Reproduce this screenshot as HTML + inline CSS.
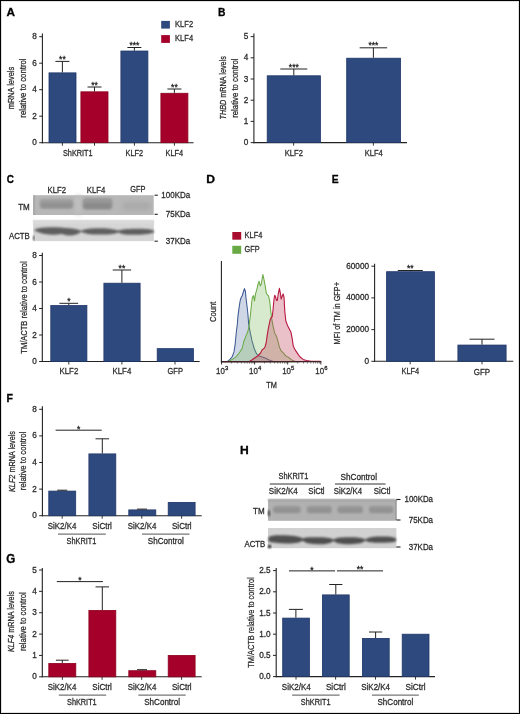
<!DOCTYPE html><html><head><meta charset="utf-8"><style>html,body{margin:0;padding:0;background:#fff;overflow:hidden}svg{display:block}text{font-family:"Liberation Sans",sans-serif;stroke:#2b2b2b;stroke-width:0.28px;paint-order:stroke}</style></head><body>
<svg width="520" height="714" viewBox="0 0 520 714">
<defs><filter id="b1" x="-20%" y="-80%" width="140%" height="260%"><feGaussianBlur stdDeviation="1.3"/></filter><filter id="b2" x="-20%" y="-80%" width="140%" height="260%"><feGaussianBlur stdDeviation="0.8"/></filter><filter id="soft" x="0" y="0" width="520" height="714" filterUnits="userSpaceOnUse"><feGaussianBlur stdDeviation="0.3"/></filter><filter id="b3" x="-20%" y="-80%" width="140%" height="260%"><feGaussianBlur stdDeviation="2"/></filter></defs>
<rect x="0" y="0" width="520" height="714" fill="#fff"/>
<g filter="url(#soft)">
<text transform="translate(6.41 16.40) scale(0.981 0.957)" x="0" y="0" font-size="12" font-weight="bold" fill="#000" style="stroke:#000;stroke-width:0.3px">A</text>
<text transform="translate(217.91 16.30) scale(0.861 0.981)" x="0" y="0" font-size="12" font-weight="bold" fill="#000" style="stroke:#000;stroke-width:0.3px">B</text>
<text transform="translate(6.79 182.88) scale(0.828 0.965)" x="0" y="0" font-size="12" font-weight="bold" fill="#000" style="stroke:#000;stroke-width:0.3px">C</text>
<text transform="translate(206.19 182.70) scale(1.013 0.908)" x="0" y="0" font-size="12" font-weight="bold" fill="#000" style="stroke:#000;stroke-width:0.3px">D</text>
<text transform="translate(331.81 182.70) scale(0.862 0.908)" x="0" y="0" font-size="12" font-weight="bold" fill="#000" style="stroke:#000;stroke-width:0.3px">E</text>
<text transform="translate(6.59 401.65) scale(0.879 0.939)" x="0" y="0" font-size="12" font-weight="bold" fill="#000" style="stroke:#000;stroke-width:0.3px">F</text>
<text transform="translate(6.32 562.98) scale(0.969 1.000)" x="0" y="0" font-size="12" font-weight="bold" fill="#000" style="stroke:#000;stroke-width:0.3px">G</text>
<text transform="translate(239.99 454.30) scale(1.006 0.945)" x="0" y="0" font-size="12" font-weight="bold" fill="#000" style="stroke:#000;stroke-width:0.3px">H</text>
<line x1="42.4" y1="33.6" x2="42.4" y2="143.25" stroke="#222" stroke-width="1.1"/>
<line x1="39.199999999999996" y1="142.7" x2="42.4" y2="142.7" stroke="#222" stroke-width="0.9900000000000001"/>
<text x="36.8" y="145.2" font-size="8.2" text-anchor="end" fill="#2b2b2b">0</text>
<line x1="39.199999999999996" y1="116.2" x2="42.4" y2="116.2" stroke="#222" stroke-width="0.9900000000000001"/>
<text x="36.8" y="118.7" font-size="8.2" text-anchor="end" fill="#2b2b2b">2</text>
<line x1="39.199999999999996" y1="89.7" x2="42.4" y2="89.7" stroke="#222" stroke-width="0.9900000000000001"/>
<text x="36.8" y="92.2" font-size="8.2" text-anchor="end" fill="#2b2b2b">4</text>
<line x1="39.199999999999996" y1="63.2" x2="42.4" y2="63.2" stroke="#222" stroke-width="0.9900000000000001"/>
<text x="36.8" y="65.7" font-size="8.2" text-anchor="end" fill="#2b2b2b">6</text>
<line x1="39.199999999999996" y1="36.7" x2="42.4" y2="36.7" stroke="#222" stroke-width="0.9900000000000001"/>
<text x="36.8" y="39.2" font-size="8.2" text-anchor="end" fill="#2b2b2b">8</text>
<line x1="41.85" y1="142.7" x2="193.6" y2="142.7" stroke="#222" stroke-width="1.1"/>
<rect x="49.0" y="72.87" width="27.0" height="69.83" fill="#2e4a7d" stroke="#1f3669" stroke-width="0.8"/>
<line x1="62.4" y1="61.4" x2="62.4" y2="72.47" stroke="#222" stroke-width="1.0"/>
<line x1="55.4" y1="61.4" x2="69.4" y2="61.4" stroke="#222" stroke-width="1.0"/>
<text x="62.4" y="62.35" font-size="8.5" text-anchor="middle" fill="#1a1a1a">**</text>
<rect x="80.9" y="91.82" width="27.1" height="50.88" fill="#a5022b" stroke="#8c0020" stroke-width="0.8"/>
<line x1="94.5" y1="87.0" x2="94.5" y2="91.42" stroke="#222" stroke-width="1.0"/>
<line x1="87.5" y1="87.0" x2="101.5" y2="87.0" stroke="#222" stroke-width="1.0"/>
<text x="94.5" y="87.75" font-size="8.5" text-anchor="middle" fill="#1a1a1a">**</text>
<rect x="120.9" y="51.01" width="27.0" height="91.69" fill="#2e4a7d" stroke="#1f3669" stroke-width="0.8"/>
<line x1="134.4" y1="47.5" x2="134.4" y2="50.61" stroke="#222" stroke-width="1.0"/>
<line x1="127.4" y1="47.5" x2="141.4" y2="47.5" stroke="#222" stroke-width="1.0"/>
<text x="134.4" y="48.45" font-size="8.5" text-anchor="middle" fill="#1a1a1a">***</text>
<rect x="160.9" y="93.28" width="27.0" height="49.42" fill="#a5022b" stroke="#8c0020" stroke-width="0.8"/>
<line x1="174.4" y1="89.0" x2="174.4" y2="92.88" stroke="#222" stroke-width="1.0"/>
<line x1="167.4" y1="89.0" x2="181.4" y2="89.0" stroke="#222" stroke-width="1.0"/>
<text x="174.4" y="89.85" font-size="8.5" text-anchor="middle" fill="#1a1a1a">**</text>
<line x1="62.4" y1="142.7" x2="62.4" y2="145.7" stroke="#222" stroke-width="0.9"/>
<line x1="94.5" y1="142.7" x2="94.5" y2="145.7" stroke="#222" stroke-width="0.9"/>
<line x1="134.4" y1="142.7" x2="134.4" y2="145.7" stroke="#222" stroke-width="0.9"/>
<line x1="174.4" y1="142.7" x2="174.4" y2="145.7" stroke="#222" stroke-width="0.9"/>
<text x="77.8" y="155.7" font-size="8.6" text-anchor="middle" fill="#2b2b2b" textLength="29.6" lengthAdjust="spacingAndGlyphs">ShKRIT1</text>
<text x="134.3" y="155.7" font-size="8.6" text-anchor="middle" fill="#2b2b2b" textLength="17.6" lengthAdjust="spacingAndGlyphs">KLF2</text>
<text x="174.3" y="155.7" font-size="8.6" text-anchor="middle" fill="#2b2b2b" textLength="17.6" lengthAdjust="spacingAndGlyphs">KLF4</text>
<text x="14.5" y="88.05" font-size="9.7" text-anchor="middle" fill="#2b2b2b" textLength="42.5" lengthAdjust="spacingAndGlyphs" transform="rotate(-90 14.5 88.05)">mRNA levels</text>
<text x="26.1" y="88.05" font-size="9.7" text-anchor="middle" fill="#2b2b2b" textLength="59.3" lengthAdjust="spacingAndGlyphs" transform="rotate(-90 26.1 88.05)">relative to control</text>
<rect x="161.2" y="20.9" width="8.7" height="7.7" fill="#2e4a7d"/>
<text x="175.1" y="27.1" font-size="8.6" fill="#2b2b2b" textLength="18" lengthAdjust="spacingAndGlyphs">KLF2</text>
<rect x="161.2" y="35.1" width="8.7" height="7.8" fill="#a5022b"/>
<text x="175.1" y="41.4" font-size="8.6" fill="#2b2b2b" textLength="18" lengthAdjust="spacingAndGlyphs">KLF4</text>
<line x1="253.9" y1="33.6" x2="253.9" y2="143.15" stroke="#222" stroke-width="1.1"/>
<line x1="250.70000000000002" y1="142.6" x2="253.9" y2="142.6" stroke="#222" stroke-width="0.9900000000000001"/>
<text x="248.3" y="145.1" font-size="8.2" text-anchor="end" fill="#2b2b2b">0</text>
<line x1="250.70000000000002" y1="121.4" x2="253.9" y2="121.4" stroke="#222" stroke-width="0.9900000000000001"/>
<text x="248.3" y="123.9" font-size="8.2" text-anchor="end" fill="#2b2b2b">1</text>
<line x1="250.70000000000002" y1="100.2" x2="253.9" y2="100.2" stroke="#222" stroke-width="0.9900000000000001"/>
<text x="248.3" y="102.7" font-size="8.2" text-anchor="end" fill="#2b2b2b">2</text>
<line x1="250.70000000000002" y1="79.0" x2="253.9" y2="79.0" stroke="#222" stroke-width="0.9900000000000001"/>
<text x="248.3" y="81.5" font-size="8.2" text-anchor="end" fill="#2b2b2b">3</text>
<line x1="250.70000000000002" y1="57.8" x2="253.9" y2="57.8" stroke="#222" stroke-width="0.9900000000000001"/>
<text x="248.3" y="60.3" font-size="8.2" text-anchor="end" fill="#2b2b2b">4</text>
<line x1="250.70000000000002" y1="36.6" x2="253.9" y2="36.6" stroke="#222" stroke-width="0.9900000000000001"/>
<text x="248.3" y="39.1" font-size="8.2" text-anchor="end" fill="#2b2b2b">5</text>
<line x1="253.35" y1="142.6" x2="407" y2="142.6" stroke="#222" stroke-width="1.1"/>
<rect x="267.2" y="75.8" width="53.2" height="66.8" fill="#2e4a7d" stroke="#1f3669" stroke-width="0.8"/>
<line x1="293.8" y1="69.0" x2="293.8" y2="75.4" stroke="#222" stroke-width="1.0"/>
<line x1="280.3" y1="69.0" x2="307.3" y2="69.0" stroke="#222" stroke-width="1.0"/>
<text x="293.8" y="69.85" font-size="8.5" text-anchor="middle" fill="#1a1a1a">***</text>
<rect x="346.7" y="58.2" width="53.8" height="84.4" fill="#2e4a7d" stroke="#1f3669" stroke-width="0.8"/>
<line x1="373.4" y1="47.8" x2="373.4" y2="57.8" stroke="#222" stroke-width="1.0"/>
<line x1="359.65" y1="47.8" x2="387.15" y2="47.8" stroke="#222" stroke-width="1.0"/>
<text x="373.4" y="48.45" font-size="8.5" text-anchor="middle" fill="#1a1a1a">***</text>
<line x1="293.6" y1="142.6" x2="293.6" y2="145.6" stroke="#222" stroke-width="0.9"/>
<line x1="373.4" y1="142.6" x2="373.4" y2="145.6" stroke="#222" stroke-width="0.9"/>
<text x="293.9" y="155.8" font-size="8.6" text-anchor="middle" fill="#2b2b2b" textLength="18.2" lengthAdjust="spacingAndGlyphs">KLF2</text>
<text x="373.7" y="155.7" font-size="8.6" text-anchor="middle" fill="#2b2b2b" textLength="18" lengthAdjust="spacingAndGlyphs">KLF4</text>
<text x="226.1" y="87.8" font-size="9.3" text-anchor="middle" fill="#2b2b2b" textLength="63.2" lengthAdjust="spacingAndGlyphs" transform="rotate(-90 226.1 87.8)"><tspan font-style="italic">THBD</tspan> mRNA levels</text>
<text x="237.8" y="88.15" font-size="9.3" text-anchor="middle" fill="#2b2b2b" textLength="59.3" lengthAdjust="spacingAndGlyphs" transform="rotate(-90 237.8 88.15)">relative to control</text>
<rect x="33.2" y="195.2" width="120.5" height="19.8" fill="#b7b7b7"/>
<rect x="33.2" y="195.2" width="2" height="19.8" fill="#a8a8a8"/>
<rect x="75" y="196" width="6.5" height="18" fill="#bfbfbf" filter="url(#b3)"/>
<rect x="39.5" y="199" width="34" height="10" rx="4" fill="#9d9d9d" filter="url(#b1)"/>
<rect x="41" y="203" width="31" height="4.5" rx="2" fill="#909090" filter="url(#b1)"/>
<rect x="82.5" y="198" width="30" height="11.5" rx="4" fill="#989898" filter="url(#b1)"/>
<rect x="84" y="203" width="27" height="5.5" rx="2" fill="#8a8a8a" filter="url(#b1)"/>
<rect x="122.5" y="202" width="28" height="8" rx="3" fill="#aaa" filter="url(#b3)"/>
<rect x="33.2" y="220.3" width="120.7" height="20.8" fill="#d5d5d5"/>
<rect x="33.2" y="220.3" width="120.7" height="3" fill="#dcdcdc" filter="url(#b2)"/>
<path d="M34.5,229.5 C38,228 44,227.3 50,227.3 C58,227.3 64,227.8 70,228.3 C75,228.8 79,229.8 81,230.8 C84,229.2 90,228.3 98,228.3 C106,228.3 113,228.8 118.5,230.5 C122,229.2 130,228.8 140,228.8 C147,228.8 152,229.5 154,230.8 L154,232.5 C150,234 142,234.8 132,234.8 C125,234.8 121,234 118.5,232.5 C115,234.2 108,234.6 98,234.6 C90,234.6 85,233.8 81,231.8 C78,234.5 74,235.8 69,235.6 C65,235.4 63,234.2 61.5,234 C58,234.8 54,235 50,234.6 C44,234.2 38,232.5 34.5,230.5 Z" fill="#5e5e5e" filter="url(#b2)"/>
<rect x="33.2" y="236" width="1.5" height="4" fill="#333" filter="url(#b2)"/>
<text x="18.2" y="209.8" font-size="8.6" fill="#2b2b2b" textLength="11.6" lengthAdjust="spacingAndGlyphs">TM</text>
<text x="9" y="239.2" font-size="8.6" fill="#2b2b2b" textLength="20.8" lengthAdjust="spacingAndGlyphs">ACTB</text>
<text x="56.85" y="192.5" font-size="8.6" text-anchor="middle" fill="#2b2b2b" textLength="18.5" lengthAdjust="spacingAndGlyphs">KLF2</text>
<text x="96" y="192.5" font-size="8.6" text-anchor="middle" fill="#2b2b2b" textLength="18.5" lengthAdjust="spacingAndGlyphs">KLF4</text>
<text x="137.8" y="192.3" font-size="8.6" text-anchor="middle" fill="#2b2b2b" textLength="15.2" lengthAdjust="spacingAndGlyphs">GFP</text>
<line x1="154.6" y1="195.2" x2="157.8" y2="195.2" stroke="#222" stroke-width="1.1"/>
<text x="161.3" y="198.1" font-size="8.6" fill="#2b2b2b" textLength="28.9" lengthAdjust="spacingAndGlyphs">100KDa</text>
<line x1="154.6" y1="214.3" x2="157.8" y2="214.3" stroke="#222" stroke-width="1.1"/>
<text x="165.8" y="217.20000000000002" font-size="8.6" fill="#2b2b2b" textLength="24.4" lengthAdjust="spacingAndGlyphs">75KDa</text>
<line x1="154.6" y1="241.2" x2="157.8" y2="241.2" stroke="#222" stroke-width="1.1"/>
<text x="165.8" y="244.1" font-size="8.6" fill="#2b2b2b" textLength="24.4" lengthAdjust="spacingAndGlyphs">37KDa</text>
<line x1="42.3" y1="252.7" x2="42.3" y2="362.05" stroke="#222" stroke-width="1.1"/>
<line x1="39.099999999999994" y1="361.5" x2="42.3" y2="361.5" stroke="#222" stroke-width="0.9900000000000001"/>
<text x="36.7" y="364.0" font-size="8.2" text-anchor="end" fill="#2b2b2b">0</text>
<line x1="39.099999999999994" y1="335.0" x2="42.3" y2="335.0" stroke="#222" stroke-width="0.9900000000000001"/>
<text x="36.7" y="337.5" font-size="8.2" text-anchor="end" fill="#2b2b2b">2</text>
<line x1="39.099999999999994" y1="308.5" x2="42.3" y2="308.5" stroke="#222" stroke-width="0.9900000000000001"/>
<text x="36.7" y="311.0" font-size="8.2" text-anchor="end" fill="#2b2b2b">4</text>
<line x1="39.099999999999994" y1="282.0" x2="42.3" y2="282.0" stroke="#222" stroke-width="0.9900000000000001"/>
<text x="36.7" y="284.5" font-size="8.2" text-anchor="end" fill="#2b2b2b">6</text>
<line x1="39.099999999999994" y1="255.5" x2="42.3" y2="255.5" stroke="#222" stroke-width="0.9900000000000001"/>
<text x="36.7" y="258.0" font-size="8.2" text-anchor="end" fill="#2b2b2b">8</text>
<line x1="41.75" y1="361.5" x2="199.7" y2="361.5" stroke="#222" stroke-width="1.1"/>
<rect x="50.8" y="305.59" width="36.1" height="55.91" fill="#2e4a7d" stroke="#1f3669" stroke-width="0.8"/>
<line x1="68.8" y1="303.3" x2="68.8" y2="305.19" stroke="#222" stroke-width="1.0"/>
<line x1="59.449999999999996" y1="303.3" x2="78.14999999999999" y2="303.3" stroke="#222" stroke-width="1.0"/>
<text x="68.8" y="304.35" font-size="8.5" text-anchor="middle" fill="#1a1a1a">*</text>
<rect x="103.9" y="283.2" width="36.2" height="78.3" fill="#2e4a7d" stroke="#1f3669" stroke-width="0.8"/>
<line x1="121.9" y1="270.0" x2="121.9" y2="282.8" stroke="#222" stroke-width="1.0"/>
<line x1="112.7" y1="270.0" x2="131.1" y2="270.0" stroke="#222" stroke-width="1.0"/>
<text x="121.9" y="270.85" font-size="8.5" text-anchor="middle" fill="#1a1a1a">**</text>
<rect x="157.2" y="348.65" width="36.2" height="12.85" fill="#2e4a7d" stroke="#1f3669" stroke-width="0.8"/>
<line x1="68.8" y1="361.5" x2="68.8" y2="364.5" stroke="#222" stroke-width="0.9"/>
<line x1="121.9" y1="361.5" x2="121.9" y2="364.5" stroke="#222" stroke-width="0.9"/>
<line x1="175.0" y1="361.5" x2="175.0" y2="364.5" stroke="#222" stroke-width="0.9"/>
<text x="68.9" y="374.3" font-size="8.6" text-anchor="middle" fill="#2b2b2b" textLength="18.7" lengthAdjust="spacingAndGlyphs">KLF2</text>
<text x="121.9" y="374.3" font-size="8.6" text-anchor="middle" fill="#2b2b2b" textLength="18.7" lengthAdjust="spacingAndGlyphs">KLF4</text>
<text x="175.2" y="374.3" font-size="8.6" text-anchor="middle" fill="#2b2b2b" textLength="15.5" lengthAdjust="spacingAndGlyphs">GFP</text>
<text x="26.6" y="307.5" font-size="9.7" text-anchor="middle" fill="#2b2b2b" textLength="92.4" lengthAdjust="spacingAndGlyphs" transform="rotate(-90 26.6 307.5)">TM/ACTB relative to control</text>
<polygon points="221.5,361.7 227.7,361.2 230,359.4 232.3,356.5 234,351.9 235.2,343.8 236.3,332.3 237.3,324.5 238,315.6 239.3,306.1 240.2,300.5 241.2,297.5 242.3,295.5 243.5,291.5 244.4,288.6 245.4,291.3 246,298 247,306 247.8,313 248.7,324.2 250.2,332.3 251.9,340.4 254.2,348.5 256.5,353.7 258.8,356 262.3,357.1 265.8,358.3 269.2,360 272.7,361.2 280,361.7" fill="#5470a8" fill-opacity="0.28" stroke="#3d5a92" stroke-width="1.05" stroke-linejoin="round"/>
<polygon points="221.5,361.7 228.8,361.2 232.3,359.4 235.8,357.1 239.2,353 242.1,348.5 243.8,341.5 245.6,336.9 247.9,331.2 249,326.5 250.2,317 250.9,310 252.3,297.5 253.5,295.6 254.5,301 255.4,294.6 256.3,291.2 256.9,289.3 257.9,284.6 259.1,281.2 260.2,286 261.3,284 262.2,278.5 262.9,274.5 263.9,279.2 265,284.8 266.4,293.5 267.3,294.6 268.5,295.8 269.6,300.4 270.8,311.5 271.7,318.5 272.5,323.1 273.7,328.8 274.8,333.5 276,335.2 277.1,338.1 278.3,342.7 279.4,347.3 281.2,350.8 283.5,353.1 285.8,356 288.1,357.1 289.8,358.3 292.7,360.6 295,361.2 300,361.7" fill="#7dbb5a" fill-opacity="0.3" stroke="#6aaa45" stroke-width="1.05" stroke-linejoin="round"/>
<polygon points="221.5,361.7 249.6,361.2 251.9,360 254.2,358.3 257.7,356 260.6,353 262.3,349.6 264,348.5 265,347 266.2,342.7 267.3,334.6 268.5,327.7 270.2,319.6 271.3,317.3 272.2,316.7 273.1,309.2 273.7,302.3 274.2,298 274.8,295.2 275.6,297 276.5,300.4 277.3,300.4 278.3,293.5 279.4,288.3 280.2,292.3 281.2,299.2 282.3,295.8 283.1,294 284,297 284.8,311.5 285.8,320.8 287.5,325.4 289.2,328.8 291,332.3 292.1,338.1 293.3,346.2 295,349.6 297.3,353.1 299.6,356.5 303.1,359.4 306.5,360.6 311.2,361.2 320.4,361.4" fill="#c23a5a" fill-opacity="0.32" stroke="#b81a40" stroke-width="1.1" stroke-linejoin="round"/>
<line x1="221.4" y1="261" x2="221.4" y2="362.2" stroke="#222" stroke-width="1.1"/>
<line x1="220.9" y1="361.7" x2="321.5" y2="361.7" stroke="#222" stroke-width="1.1"/>
<line x1="231.46" y1="361.7" x2="231.46" y2="363.5" stroke="#444" stroke-width="0.7"/>
<line x1="237.29" y1="361.7" x2="237.29" y2="363.5" stroke="#444" stroke-width="0.7"/>
<line x1="241.43" y1="361.7" x2="241.43" y2="363.5" stroke="#444" stroke-width="0.7"/>
<line x1="244.64" y1="361.7" x2="244.64" y2="363.5" stroke="#444" stroke-width="0.7"/>
<line x1="247.26" y1="361.7" x2="247.26" y2="363.5" stroke="#444" stroke-width="0.7"/>
<line x1="249.47" y1="361.7" x2="249.47" y2="363.5" stroke="#444" stroke-width="0.7"/>
<line x1="251.39" y1="361.7" x2="251.39" y2="363.5" stroke="#444" stroke-width="0.7"/>
<line x1="253.09" y1="361.7" x2="253.09" y2="363.5" stroke="#444" stroke-width="0.7"/>
<line x1="264.56" y1="361.7" x2="264.56" y2="363.5" stroke="#444" stroke-width="0.7"/>
<line x1="270.39" y1="361.7" x2="270.39" y2="363.5" stroke="#444" stroke-width="0.7"/>
<line x1="274.53" y1="361.7" x2="274.53" y2="363.5" stroke="#444" stroke-width="0.7"/>
<line x1="277.74" y1="361.7" x2="277.74" y2="363.5" stroke="#444" stroke-width="0.7"/>
<line x1="280.36" y1="361.7" x2="280.36" y2="363.5" stroke="#444" stroke-width="0.7"/>
<line x1="282.57" y1="361.7" x2="282.57" y2="363.5" stroke="#444" stroke-width="0.7"/>
<line x1="284.49" y1="361.7" x2="284.49" y2="363.5" stroke="#444" stroke-width="0.7"/>
<line x1="286.19" y1="361.7" x2="286.19" y2="363.5" stroke="#444" stroke-width="0.7"/>
<line x1="297.66" y1="361.7" x2="297.66" y2="363.5" stroke="#444" stroke-width="0.7"/>
<line x1="303.49" y1="361.7" x2="303.49" y2="363.5" stroke="#444" stroke-width="0.7"/>
<line x1="307.63" y1="361.7" x2="307.63" y2="363.5" stroke="#444" stroke-width="0.7"/>
<line x1="310.84" y1="361.7" x2="310.84" y2="363.5" stroke="#444" stroke-width="0.7"/>
<line x1="313.46" y1="361.7" x2="313.46" y2="363.5" stroke="#444" stroke-width="0.7"/>
<line x1="315.67" y1="361.7" x2="315.67" y2="363.5" stroke="#444" stroke-width="0.7"/>
<line x1="317.59" y1="361.7" x2="317.59" y2="363.5" stroke="#444" stroke-width="0.7"/>
<line x1="319.29" y1="361.7" x2="319.29" y2="363.5" stroke="#444" stroke-width="0.7"/>
<line x1="221.5" y1="361.7" x2="221.5" y2="364.5" stroke="#222" stroke-width="0.9"/>
<line x1="254.6" y1="361.7" x2="254.6" y2="364.5" stroke="#222" stroke-width="0.9"/>
<line x1="287.7" y1="361.7" x2="287.7" y2="364.5" stroke="#222" stroke-width="0.9"/>
<line x1="320.8" y1="361.7" x2="320.8" y2="364.5" stroke="#222" stroke-width="0.9"/>
<text x="216.0" y="374.2" font-size="9.2" fill="#2b2b2b" textLength="8.8" lengthAdjust="spacingAndGlyphs">10</text>
<text x="224.9" y="370.3" font-size="6" fill="#2b2b2b" textLength="3.3" lengthAdjust="spacingAndGlyphs">3</text>
<text x="249.1" y="374.2" font-size="9.2" fill="#2b2b2b" textLength="8.8" lengthAdjust="spacingAndGlyphs">10</text>
<text x="258.0" y="370.3" font-size="6" fill="#2b2b2b" textLength="3.3" lengthAdjust="spacingAndGlyphs">4</text>
<text x="282.2" y="374.2" font-size="9.2" fill="#2b2b2b" textLength="8.8" lengthAdjust="spacingAndGlyphs">10</text>
<text x="291.1" y="370.3" font-size="6" fill="#2b2b2b" textLength="3.3" lengthAdjust="spacingAndGlyphs">5</text>
<text x="315.3" y="374.2" font-size="9.2" fill="#2b2b2b" textLength="8.8" lengthAdjust="spacingAndGlyphs">10</text>
<text x="324.2" y="370.3" font-size="6" fill="#2b2b2b" textLength="3.3" lengthAdjust="spacingAndGlyphs">6</text>
<text x="271.6" y="388" font-size="9.8" text-anchor="middle" fill="#2b2b2b" textLength="10.6" lengthAdjust="spacingAndGlyphs">TM</text>
<text x="215.8" y="311.8" font-size="9.7" text-anchor="middle" fill="#2b2b2b" textLength="20.4" lengthAdjust="spacingAndGlyphs" transform="rotate(-90 215.8 311.8)">Count</text>
<rect x="232.3" y="232" width="8.9" height="7.7" fill="#a8102f"/>
<text x="244.6" y="238.2" font-size="8.6" fill="#2b2b2b" textLength="17.7" lengthAdjust="spacingAndGlyphs">KLF4</text>
<rect x="232.3" y="245.8" width="8.9" height="8" fill="#6aaa45"/>
<text x="244.6" y="252" font-size="8.6" fill="#2b2b2b" textLength="15.1" lengthAdjust="spacingAndGlyphs">GFP</text>
<line x1="374.6" y1="263.7" x2="374.6" y2="361.85" stroke="#222" stroke-width="1.1"/>
<line x1="371.40000000000003" y1="361.3" x2="374.6" y2="361.3" stroke="#222" stroke-width="0.9900000000000001"/>
<text x="369.0" y="363.8" font-size="8.2" text-anchor="end" fill="#2b2b2b">0</text>
<line x1="371.40000000000003" y1="329.6" x2="374.6" y2="329.6" stroke="#222" stroke-width="0.9900000000000001"/>
<text x="369.0" y="332.1" font-size="8.2" text-anchor="end" fill="#2b2b2b">20000</text>
<line x1="371.40000000000003" y1="297.9" x2="374.6" y2="297.9" stroke="#222" stroke-width="0.9900000000000001"/>
<text x="369.0" y="300.4" font-size="8.2" text-anchor="end" fill="#2b2b2b">40000</text>
<line x1="371.40000000000003" y1="266.2" x2="374.6" y2="266.2" stroke="#222" stroke-width="0.9900000000000001"/>
<text x="369.0" y="268.7" font-size="8.2" text-anchor="end" fill="#2b2b2b">60000</text>
<line x1="374.05" y1="361.3" x2="513.3" y2="361.3" stroke="#222" stroke-width="1.1"/>
<rect x="386.6" y="271.7" width="47.8" height="89.6" fill="#2e4a7d" stroke="#1f3669" stroke-width="0.8"/>
<line x1="410.3" y1="270.5" x2="410.3" y2="271.3" stroke="#222" stroke-width="1.0"/>
<line x1="397.8" y1="270.5" x2="422.8" y2="270.5" stroke="#222" stroke-width="1.0"/>
<text x="410.2" y="271.45" font-size="8.5" text-anchor="middle" fill="#1a1a1a">**</text>
<rect x="457.9" y="345.06" width="48.2" height="16.24" fill="#2e4a7d" stroke="#1f3669" stroke-width="0.8"/>
<line x1="482" y1="339.2" x2="482" y2="344.66" stroke="#222" stroke-width="1.0"/>
<line x1="469.5" y1="339.2" x2="494.5" y2="339.2" stroke="#222" stroke-width="1.0"/>
<line x1="410.2" y1="361.3" x2="410.2" y2="364.3" stroke="#222" stroke-width="0.9"/>
<line x1="482" y1="361.3" x2="482" y2="364.3" stroke="#222" stroke-width="0.9"/>
<text x="410.3" y="374.4" font-size="8.6" text-anchor="middle" fill="#2b2b2b" textLength="17.7" lengthAdjust="spacingAndGlyphs">KLF4</text>
<text x="482" y="374.6" font-size="8.6" text-anchor="middle" fill="#2b2b2b" textLength="16.4" lengthAdjust="spacingAndGlyphs">GFP</text>
<text x="340.0" y="313.2" font-size="9.7" text-anchor="middle" fill="#2b2b2b" textLength="62.5" lengthAdjust="spacingAndGlyphs" transform="rotate(-90 340.0 313.2)">MFI of TM in GFP+</text>
<line x1="42.4" y1="406.2" x2="42.4" y2="516.25" stroke="#222" stroke-width="1.1"/>
<line x1="39.199999999999996" y1="515.7" x2="42.4" y2="515.7" stroke="#222" stroke-width="0.9900000000000001"/>
<text x="36.8" y="518.2" font-size="8.2" text-anchor="end" fill="#2b2b2b">0</text>
<line x1="39.199999999999996" y1="489.1" x2="42.4" y2="489.1" stroke="#222" stroke-width="0.9900000000000001"/>
<text x="36.8" y="491.6" font-size="8.2" text-anchor="end" fill="#2b2b2b">2</text>
<line x1="39.199999999999996" y1="462.5" x2="42.4" y2="462.5" stroke="#222" stroke-width="0.9900000000000001"/>
<text x="36.8" y="465.0" font-size="8.2" text-anchor="end" fill="#2b2b2b">4</text>
<line x1="39.199999999999996" y1="435.9" x2="42.4" y2="435.9" stroke="#222" stroke-width="0.9900000000000001"/>
<text x="36.8" y="438.4" font-size="8.2" text-anchor="end" fill="#2b2b2b">6</text>
<line x1="39.199999999999996" y1="409.3" x2="42.4" y2="409.3" stroke="#222" stroke-width="0.9900000000000001"/>
<text x="36.8" y="411.8" font-size="8.2" text-anchor="end" fill="#2b2b2b">8</text>
<line x1="41.85" y1="515.7" x2="201.7" y2="515.7" stroke="#222" stroke-width="1.1"/>
<rect x="48.8" y="491.1" width="26.9" height="24.6" fill="#2e4a7d" stroke="#1f3669" stroke-width="0.8"/>
<line x1="62.2" y1="490.2" x2="62.2" y2="490.7" stroke="#222" stroke-width="1.0"/>
<line x1="57.2" y1="490.2" x2="67.2" y2="490.2" stroke="#222" stroke-width="1.0"/>
<rect x="88.9" y="453.9" width="26.9" height="61.8" fill="#2e4a7d" stroke="#1f3669" stroke-width="0.8"/>
<line x1="102.3" y1="438.8" x2="102.3" y2="453.5" stroke="#222" stroke-width="1.0"/>
<line x1="95.55" y1="438.8" x2="109.05" y2="438.8" stroke="#222" stroke-width="1.0"/>
<rect x="128.8" y="509.9" width="27.0" height="5.8" fill="#2e4a7d" stroke="#1f3669" stroke-width="0.8"/>
<line x1="142" y1="509.1" x2="142" y2="509.5" stroke="#222" stroke-width="1.0"/>
<line x1="137.0" y1="509.1" x2="147.0" y2="509.1" stroke="#222" stroke-width="1.0"/>
<rect x="168.2" y="502.4" width="26.9" height="13.3" fill="#2e4a7d" stroke="#1f3669" stroke-width="0.8"/>
<line x1="62.2" y1="515.7" x2="62.2" y2="518.7" stroke="#222" stroke-width="0.9"/>
<line x1="102.2" y1="515.7" x2="102.2" y2="518.7" stroke="#222" stroke-width="0.9"/>
<line x1="141.8" y1="515.7" x2="141.8" y2="518.7" stroke="#222" stroke-width="0.9"/>
<line x1="181.6" y1="515.7" x2="181.6" y2="518.7" stroke="#222" stroke-width="0.9"/>
<line x1="55.6" y1="430.2" x2="101.7" y2="430.2" stroke="#222" stroke-width="1.0"/>
<text x="78.7" y="432.15" font-size="8.5" text-anchor="middle" fill="#1a1a1a">*</text>
<text x="62.05" y="528.9" font-size="8.6" text-anchor="middle" fill="#2b2b2b" textLength="28.5" lengthAdjust="spacingAndGlyphs">SiK2/K4</text>
<text x="102.1" y="528.9" font-size="8.6" text-anchor="middle" fill="#2b2b2b" textLength="19.6" lengthAdjust="spacingAndGlyphs">SiCtrl</text>
<text x="142.05" y="528.9" font-size="8.6" text-anchor="middle" fill="#2b2b2b" textLength="28.5" lengthAdjust="spacingAndGlyphs">SiK2/K4</text>
<text x="181.8" y="528.9" font-size="8.6" text-anchor="middle" fill="#2b2b2b" textLength="19.6" lengthAdjust="spacingAndGlyphs">SiCtrl</text>
<line x1="58" y1="534.1" x2="105.8" y2="534.1" stroke="#555" stroke-width="1.0"/>
<line x1="142" y1="534.1" x2="189.5" y2="534.1" stroke="#555" stroke-width="1.0"/>
<text x="81.5" y="543.6" font-size="8.6" text-anchor="middle" fill="#2b2b2b" textLength="29.8" lengthAdjust="spacingAndGlyphs">ShKRIT1</text>
<text x="165.75" y="543.6" font-size="8.6" text-anchor="middle" fill="#2b2b2b" textLength="35.9" lengthAdjust="spacingAndGlyphs">ShControl</text>
<text x="14.6" y="461.5" font-size="9.7" text-anchor="middle" fill="#2b2b2b" textLength="61" lengthAdjust="spacingAndGlyphs" transform="rotate(-90 14.6 461.5)"><tspan font-style="italic">KLF2</tspan> mRNA levels</text>
<text x="26.2" y="460.9" font-size="9.7" text-anchor="middle" fill="#2b2b2b" textLength="58.5" lengthAdjust="spacingAndGlyphs" transform="rotate(-90 26.2 460.9)">relative to control</text>
<line x1="42.3" y1="568" x2="42.3" y2="677.3499999999999" stroke="#222" stroke-width="1.1"/>
<line x1="39.099999999999994" y1="676.8" x2="42.3" y2="676.8" stroke="#222" stroke-width="0.9900000000000001"/>
<text x="36.7" y="679.3" font-size="8.2" text-anchor="end" fill="#2b2b2b">0</text>
<line x1="39.099999999999994" y1="655.44" x2="42.3" y2="655.44" stroke="#222" stroke-width="0.9900000000000001"/>
<text x="36.7" y="657.94" font-size="8.2" text-anchor="end" fill="#2b2b2b">1</text>
<line x1="39.099999999999994" y1="634.08" x2="42.3" y2="634.08" stroke="#222" stroke-width="0.9900000000000001"/>
<text x="36.7" y="636.58" font-size="8.2" text-anchor="end" fill="#2b2b2b">2</text>
<line x1="39.099999999999994" y1="612.72" x2="42.3" y2="612.72" stroke="#222" stroke-width="0.9900000000000001"/>
<text x="36.7" y="615.22" font-size="8.2" text-anchor="end" fill="#2b2b2b">3</text>
<line x1="39.099999999999994" y1="591.36" x2="42.3" y2="591.36" stroke="#222" stroke-width="0.9900000000000001"/>
<text x="36.7" y="593.86" font-size="8.2" text-anchor="end" fill="#2b2b2b">4</text>
<line x1="39.099999999999994" y1="570.0" x2="42.3" y2="570.0" stroke="#222" stroke-width="0.9900000000000001"/>
<text x="36.7" y="572.5" font-size="8.2" text-anchor="end" fill="#2b2b2b">5</text>
<line x1="41.75" y1="676.8" x2="201.7" y2="676.8" stroke="#222" stroke-width="1.1"/>
<rect x="48.8" y="663.4" width="27.0" height="13.4" fill="#a5022b" stroke="#8c0020" stroke-width="0.8"/>
<line x1="62.3" y1="660.2" x2="62.3" y2="663.0" stroke="#222" stroke-width="1.0"/>
<line x1="55.949999999999996" y1="660.2" x2="68.64999999999999" y2="660.2" stroke="#222" stroke-width="1.0"/>
<rect x="88.9" y="610.4" width="26.9" height="66.4" fill="#a5022b" stroke="#8c0020" stroke-width="0.8"/>
<line x1="102.3" y1="586.9" x2="102.3" y2="610.0" stroke="#222" stroke-width="1.0"/>
<line x1="95.55" y1="586.9" x2="109.05" y2="586.9" stroke="#222" stroke-width="1.0"/>
<rect x="128.8" y="670.7" width="27.0" height="6.1" fill="#a5022b" stroke="#8c0020" stroke-width="0.8"/>
<line x1="142" y1="669.7" x2="142" y2="670.3" stroke="#222" stroke-width="1.0"/>
<line x1="137.0" y1="669.7" x2="147.0" y2="669.7" stroke="#222" stroke-width="1.0"/>
<rect x="168.2" y="655.4" width="26.9" height="21.4" fill="#a5022b" stroke="#8c0020" stroke-width="0.8"/>
<line x1="62.4" y1="676.8" x2="62.4" y2="679.8" stroke="#222" stroke-width="0.9"/>
<line x1="102.1" y1="676.8" x2="102.1" y2="679.8" stroke="#222" stroke-width="0.9"/>
<line x1="141.7" y1="676.8" x2="141.7" y2="679.8" stroke="#222" stroke-width="0.9"/>
<line x1="181.6" y1="676.8" x2="181.6" y2="679.8" stroke="#222" stroke-width="0.9"/>
<line x1="56.8" y1="581.6" x2="102.9" y2="581.6" stroke="#222" stroke-width="1.0"/>
<text x="79.8" y="583.45" font-size="8.5" text-anchor="middle" fill="#1a1a1a">*</text>
<text x="62.05" y="689.6" font-size="8.6" text-anchor="middle" fill="#2b2b2b" textLength="28.5" lengthAdjust="spacingAndGlyphs">SiK2/K4</text>
<text x="102.1" y="689.6" font-size="8.6" text-anchor="middle" fill="#2b2b2b" textLength="19.6" lengthAdjust="spacingAndGlyphs">SiCtrl</text>
<text x="142.05" y="689.6" font-size="8.6" text-anchor="middle" fill="#2b2b2b" textLength="28.5" lengthAdjust="spacingAndGlyphs">SiK2/K4</text>
<text x="181.8" y="689.6" font-size="8.6" text-anchor="middle" fill="#2b2b2b" textLength="19.6" lengthAdjust="spacingAndGlyphs">SiCtrl</text>
<line x1="58.8" y1="695.1" x2="106.2" y2="695.1" stroke="#555" stroke-width="1.0"/>
<line x1="138.3" y1="695.1" x2="185.7" y2="695.1" stroke="#555" stroke-width="1.0"/>
<text x="81.85" y="704.7" font-size="8.6" text-anchor="middle" fill="#2b2b2b" textLength="29.7" lengthAdjust="spacingAndGlyphs">ShKRIT1</text>
<text x="162.15" y="704.7" font-size="8.6" text-anchor="middle" fill="#2b2b2b" textLength="35.9" lengthAdjust="spacingAndGlyphs">ShControl</text>
<text x="14.5" y="621.6" font-size="9.7" text-anchor="middle" fill="#2b2b2b" textLength="60.8" lengthAdjust="spacingAndGlyphs" transform="rotate(-90 14.5 621.6)"><tspan font-style="italic">KLF4</tspan> mRNA levels</text>
<text x="26.3" y="621.6" font-size="9.7" text-anchor="middle" fill="#2b2b2b" textLength="58.8" lengthAdjust="spacingAndGlyphs" transform="rotate(-90 26.3 621.6)">relative to control</text>
<text x="293.4" y="479.4" font-size="8.6" text-anchor="middle" fill="#2b2b2b" textLength="29.8" lengthAdjust="spacingAndGlyphs">ShKRIT1</text>
<text x="358.75" y="479.5" font-size="8.6" text-anchor="middle" fill="#2b2b2b" textLength="36.5" lengthAdjust="spacingAndGlyphs">ShControl</text>
<line x1="269.8" y1="484" x2="320.8" y2="484" stroke="#333" stroke-width="1.0"/>
<line x1="335" y1="484" x2="385.5" y2="484" stroke="#333" stroke-width="1.0"/>
<text x="283.25" y="494.4" font-size="8.6" text-anchor="middle" fill="#2b2b2b" textLength="28.9" lengthAdjust="spacingAndGlyphs">SiK2/K4</text>
<text x="316.45" y="494.4" font-size="8.6" text-anchor="middle" fill="#2b2b2b" textLength="16.3" lengthAdjust="spacingAndGlyphs">SiCtl</text>
<text x="347.9" y="494.4" font-size="8.6" text-anchor="middle" fill="#2b2b2b" textLength="28.2" lengthAdjust="spacingAndGlyphs">SiK2/K4</text>
<text x="382.15" y="494.4" font-size="8.6" text-anchor="middle" fill="#2b2b2b" textLength="16.7" lengthAdjust="spacingAndGlyphs">SiCtl</text>
<rect x="268" y="499.3" width="127.5" height="21.5" fill="#b1b1b1"/>
<rect x="268" y="499.3" width="127.5" height="1.6" fill="#a0a0a0" filter="url(#b2)"/>
<rect x="273.1" y="505.8" width="27.6" height="7.5" rx="3" fill="#9a9a9a" filter="url(#b1)"/>
<rect x="274.1" y="508" width="25.6" height="4.2" rx="2" fill="#929292" filter="url(#b1)"/>
<rect x="306.7" y="505.8" width="25.1" height="7.5" rx="3" fill="#9a9a9a" filter="url(#b1)"/>
<rect x="307.7" y="508" width="23.1" height="4.2" rx="2" fill="#929292" filter="url(#b1)"/>
<rect x="337.4" y="505.8" width="25.6" height="7.5" rx="3" fill="#9a9a9a" filter="url(#b1)"/>
<rect x="338.4" y="508" width="23.6" height="4.2" rx="2" fill="#929292" filter="url(#b1)"/>
<rect x="369" y="505.8" width="24.3" height="7.5" rx="3" fill="#9a9a9a" filter="url(#b1)"/>
<rect x="370" y="508" width="22.3" height="4.2" rx="2" fill="#929292" filter="url(#b1)"/>
<rect x="268" y="510.5" width="1.8" height="5.5" fill="#333" filter="url(#b2)"/>
<line x1="396" y1="499.8" x2="396" y2="520.2" stroke="#444" stroke-width="0.8"/>
<rect x="268" y="528" width="128.4" height="20.2" fill="#d1d1d1"/>
<path d="M268.4,537.5 C270,535.6 275,535.2 282,535.3 C292,535.5 299,536 302.7,538.5 C306,536.9 312,537.3 318,537.3 C325,537.3 330,537.6 333.5,539.5 C337,537.4 343,537.3 350,537.3 C357,537.3 362,537.6 365.3,539.5 C368,536.8 375,536.4 382,536.4 C390,536.4 394,537 396,538.5 L396,541.3 C393,542.6 388,542.8 380,542.8 C373,542.8 368,542.5 365.3,540.8 C362,543.8 356,544.2 348,544.2 C341,544.2 337,543.6 333.5,541 C330,544 325,544.3 318,544.3 C311,544.3 306,543.4 302.7,540.8 C299,543.2 293,543.6 286,543.6 C278,543.4 272,542.5 268.4,541.5 Z" fill="#505050" filter="url(#b2)"/>
<rect x="268" y="545" width="3" height="3" fill="#222" filter="url(#b2)"/>
<text x="253" y="514.4" font-size="8.6" fill="#2b2b2b" textLength="11.6" lengthAdjust="spacingAndGlyphs">TM</text>
<text x="244.5" y="547" font-size="8.6" fill="#2b2b2b" textLength="20.8" lengthAdjust="spacingAndGlyphs">ACTB</text>
<line x1="396.3" y1="499.5" x2="400.5" y2="499.5" stroke="#222" stroke-width="1.1"/>
<text x="404.5" y="502.4" font-size="8.6" fill="#2b2b2b" textLength="28.5" lengthAdjust="spacingAndGlyphs">100KDa</text>
<line x1="396.3" y1="520.0" x2="400.5" y2="520.0" stroke="#222" stroke-width="1.1"/>
<text x="408.8" y="522.9" font-size="8.6" fill="#2b2b2b" textLength="24.2" lengthAdjust="spacingAndGlyphs">75KDa</text>
<line x1="396.3" y1="547.0" x2="400.5" y2="547.0" stroke="#222" stroke-width="1.1"/>
<text x="408.8" y="549.9" font-size="8.6" fill="#2b2b2b" textLength="24.2" lengthAdjust="spacingAndGlyphs">37KDa</text>
<line x1="276.2" y1="568" x2="276.2" y2="677.15" stroke="#222" stroke-width="1.1"/>
<line x1="273.0" y1="676.6" x2="276.2" y2="676.6" stroke="#222" stroke-width="0.9900000000000001"/>
<text x="270.6" y="679.1" font-size="8.2" text-anchor="end" fill="#2b2b2b">0.0</text>
<line x1="273.0" y1="655.4" x2="276.2" y2="655.4" stroke="#222" stroke-width="0.9900000000000001"/>
<text x="270.6" y="657.9" font-size="8.2" text-anchor="end" fill="#2b2b2b">0.5</text>
<line x1="273.0" y1="634.2" x2="276.2" y2="634.2" stroke="#222" stroke-width="0.9900000000000001"/>
<text x="270.6" y="636.7" font-size="8.2" text-anchor="end" fill="#2b2b2b">1.0</text>
<line x1="273.0" y1="613.0" x2="276.2" y2="613.0" stroke="#222" stroke-width="0.9900000000000001"/>
<text x="270.6" y="615.5" font-size="8.2" text-anchor="end" fill="#2b2b2b">1.5</text>
<line x1="273.0" y1="591.8" x2="276.2" y2="591.8" stroke="#222" stroke-width="0.9900000000000001"/>
<text x="270.6" y="594.3" font-size="8.2" text-anchor="end" fill="#2b2b2b">2.0</text>
<line x1="273.0" y1="570.6" x2="276.2" y2="570.6" stroke="#222" stroke-width="0.9900000000000001"/>
<text x="270.6" y="573.1" font-size="8.2" text-anchor="end" fill="#2b2b2b">2.5</text>
<line x1="275.65" y1="676.6" x2="435" y2="676.6" stroke="#222" stroke-width="1.1"/>
<rect x="282.7" y="618.1" width="26.7" height="58.5" fill="#2e4a7d" stroke="#1f3669" stroke-width="0.8"/>
<line x1="295.9" y1="609.4" x2="295.9" y2="617.7" stroke="#222" stroke-width="1.0"/>
<line x1="288.9" y1="609.4" x2="302.9" y2="609.4" stroke="#222" stroke-width="1.0"/>
<rect x="322.4" y="594.9" width="26.8" height="81.7" fill="#2e4a7d" stroke="#1f3669" stroke-width="0.8"/>
<line x1="335.8" y1="584.5" x2="335.8" y2="594.5" stroke="#222" stroke-width="1.0"/>
<line x1="329.2" y1="584.5" x2="342.40000000000003" y2="584.5" stroke="#222" stroke-width="1.0"/>
<rect x="362.4" y="638.4" width="26.8" height="38.2" fill="#2e4a7d" stroke="#1f3669" stroke-width="0.8"/>
<line x1="375.6" y1="632.0" x2="375.6" y2="638.0" stroke="#222" stroke-width="1.0"/>
<line x1="369.0" y1="632.0" x2="382.20000000000005" y2="632.0" stroke="#222" stroke-width="1.0"/>
<rect x="402.2" y="634.2" width="26.8" height="42.4" fill="#2e4a7d" stroke="#1f3669" stroke-width="0.8"/>
<line x1="296" y1="676.6" x2="296" y2="679.6" stroke="#222" stroke-width="0.9"/>
<line x1="335.6" y1="676.6" x2="335.6" y2="679.6" stroke="#222" stroke-width="0.9"/>
<line x1="375.5" y1="676.6" x2="375.5" y2="679.6" stroke="#222" stroke-width="0.9"/>
<line x1="415.5" y1="676.6" x2="415.5" y2="679.6" stroke="#222" stroke-width="0.9"/>
<line x1="289" y1="570.9" x2="335" y2="570.9" stroke="#222" stroke-width="1.0"/>
<text x="311.9" y="572.95" font-size="8.5" text-anchor="middle" fill="#1a1a1a">*</text>
<line x1="337" y1="570.9" x2="383" y2="570.9" stroke="#222" stroke-width="1.0"/>
<text x="360" y="572.15" font-size="8.5" text-anchor="middle" fill="#1a1a1a">**</text>
<text x="296.25" y="689.9" font-size="8.6" text-anchor="middle" fill="#2b2b2b" textLength="28.9" lengthAdjust="spacingAndGlyphs">SiK2/K4</text>
<text x="335.85" y="689.9" font-size="8.6" text-anchor="middle" fill="#2b2b2b" textLength="19.9" lengthAdjust="spacingAndGlyphs">SiCtrl</text>
<text x="375.65" y="689.9" font-size="8.6" text-anchor="middle" fill="#2b2b2b" textLength="28.7" lengthAdjust="spacingAndGlyphs">SiK2/K4</text>
<text x="415.5" y="689.9" font-size="8.6" text-anchor="middle" fill="#2b2b2b" textLength="20" lengthAdjust="spacingAndGlyphs">SiCtrl</text>
<line x1="292.1" y1="695.1" x2="339.6" y2="695.1" stroke="#555" stroke-width="1.0"/>
<line x1="372" y1="695.1" x2="418.8" y2="695.1" stroke="#555" stroke-width="1.0"/>
<text x="315.7" y="704.6" font-size="8.6" text-anchor="middle" fill="#2b2b2b" textLength="29.8" lengthAdjust="spacingAndGlyphs">ShKRIT1</text>
<text x="395.4" y="704.6" font-size="8.6" text-anchor="middle" fill="#2b2b2b" textLength="35.8" lengthAdjust="spacingAndGlyphs">ShControl</text>
<text x="254.0" y="622.5" font-size="9.7" text-anchor="middle" fill="#2b2b2b" textLength="90.4" lengthAdjust="spacingAndGlyphs" transform="rotate(-90 254.0 622.5)">TM/ACTB relative to control</text>
</g>
<rect x="1.5" y="1.5" width="517" height="711" fill="none" stroke="#e2e2e2" stroke-width="1"/>
<rect x="0.5" y="0.5" width="519" height="713" fill="none" stroke="#000" stroke-width="1"/>
</svg></body></html>
